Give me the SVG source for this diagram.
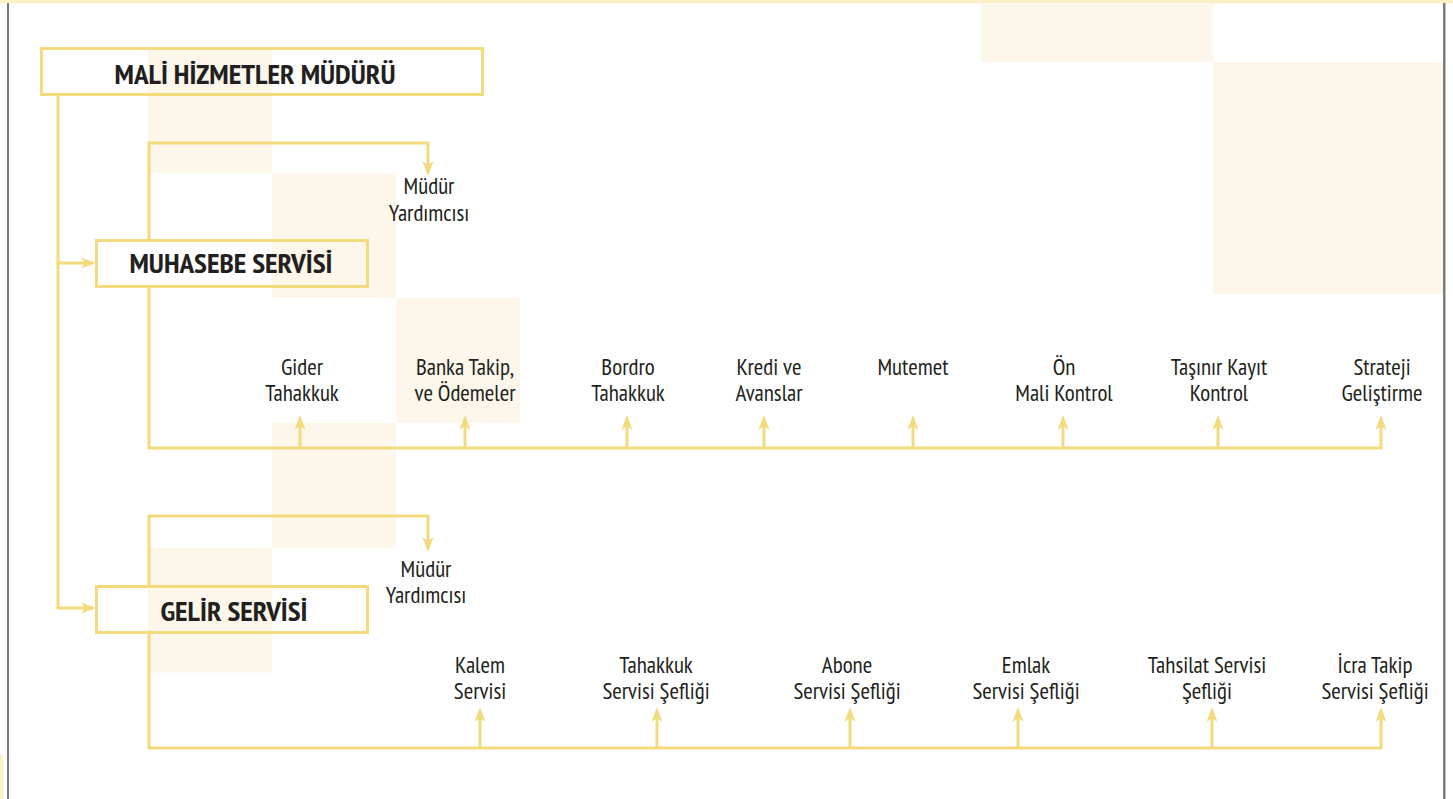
<svg xmlns="http://www.w3.org/2000/svg" width="1453" height="799" viewBox="0 0 1453 799">
<style>
.bg{fill:#fcf7ea}
.box{fill:none;stroke:#f3da7d;stroke-width:3}
.ln{fill:none;stroke:#f3da7d;stroke-width:3}
.t{font-family:"Liberation Sans Narrow","PT Sans Narrow","DejaVu Sans Condensed","Roboto Condensed",sans-serif;font-size:23px;fill:#231f20;text-anchor:middle}
.h{font-family:"Liberation Sans Narrow","PT Sans Narrow","DejaVu Sans Condensed",sans-serif;font-size:27px;font-weight:bold;fill:#231f20;text-anchor:middle}
</style>
<defs>
<marker id="ah" markerUnits="userSpaceOnUse" markerWidth="16" markerHeight="14" viewBox="0 0 16 14" refX="11" refY="7" orient="auto">
<path d="M0,1.5 L15,7 L0,12.5 L4,7 Z" fill="#f3da7d"/>
</marker>
</defs>
<rect x="0" y="0" width="1453" height="799" fill="#ffffff"/>
<g id="background">
<rect x="0" y="0" width="1453" height="3.5" fill="#fcefc8"/>
<rect class="bg" x="148" y="49" width="124" height="124.5"/>
<rect class="bg" x="272" y="173.5" width="124" height="124.5"/>
<rect class="bg" x="396" y="298" width="124" height="124.5"/>
<rect class="bg" x="272" y="422.5" width="124" height="125"/>
<rect class="bg" x="148" y="547.5" width="124" height="125"/>
<rect class="bg" x="981" y="3.5" width="232" height="58.5"/>
<rect class="bg" x="1213" y="62" width="230" height="232"/>
<rect x="7" y="3" width="2" height="796" fill="#7b7b7d"/>
<rect x="1443" y="3" width="2.5" height="796" fill="#7b7b7d"/>
<rect x="0" y="755" width="3" height="44" fill="#fcefc8"/>
</g>
<g id="connectors">
<path class="ln" d="M58,95 V263 H92" marker-end="url(#ah)"/>
<path class="ln" d="M58,263 V608 H92" marker-end="url(#ah)"/>
<path class="ln" d="M149,240 V143 H428 V172" marker-end="url(#ah)"/>
<path class="ln" d="M149,287 V448 H1381 V419" marker-end="url(#ah)"/>
<path class="ln" d="M300,448 V419" marker-end="url(#ah)"/>
<path class="ln" d="M465,448 V419" marker-end="url(#ah)"/>
<path class="ln" d="M627,448 V419" marker-end="url(#ah)"/>
<path class="ln" d="M764,448 V419" marker-end="url(#ah)"/>
<path class="ln" d="M913,448 V419" marker-end="url(#ah)"/>
<path class="ln" d="M1063,448 V419" marker-end="url(#ah)"/>
<path class="ln" d="M1218,448 V419" marker-end="url(#ah)"/>
<path class="ln" d="M149,586 V516 H428 V548" marker-end="url(#ah)"/>
<path class="ln" d="M149,633 V748 H1381 V711" marker-end="url(#ah)"/>
<path class="ln" d="M480,748 V711" marker-end="url(#ah)"/>
<path class="ln" d="M657,748 V711" marker-end="url(#ah)"/>
<path class="ln" d="M850,748 V711" marker-end="url(#ah)"/>
<path class="ln" d="M1018,748 V711" marker-end="url(#ah)"/>
<path class="ln" d="M1212,748 V711" marker-end="url(#ah)"/>
</g>
<g id="mali">
<rect class="box" x="41.5" y="48.5" width="441" height="46"/>
<text class="h" x="255" y="84" textLength="281" lengthAdjust="spacingAndGlyphs">MALİ HİZMETLER MÜDÜRÜ</text>
</g>
<g id="muhasebe">
<rect class="box" x="96.5" y="240.5" width="271" height="46"/>
<text class="h" x="231" y="273" textLength="203" lengthAdjust="spacingAndGlyphs">MUHASEBE SERVİSİ</text>
</g>
<g id="gelir">
<rect class="box" x="96.5" y="586.5" width="271" height="46"/>
<text class="h" x="234" y="621" textLength="147" lengthAdjust="spacingAndGlyphs">GELİR SERVİSİ</text>
</g>
<g id="muh-yrd"><text class="t" x="429" y="194">Müdür</text><text class="t" x="429" y="220.5">Yardımcısı</text></g>
<g id="gider"><text class="t" x="302" y="374.5">Gider</text><text class="t" x="302" y="401">Tahakkuk</text></g>
<g id="banka"><text class="t" x="465" y="374.5">Banka Takip,</text><text class="t" x="465" y="401">ve Ödemeler</text></g>
<g id="bordro"><text class="t" x="628" y="374.5">Bordro</text><text class="t" x="628" y="401">Tahakkuk</text></g>
<g id="kredi"><text class="t" x="769" y="374.5">Kredi ve</text><text class="t" x="769" y="401">Avanslar</text></g>
<g id="mutemet"><text class="t" x="913" y="374.5">Mutemet</text></g>
<g id="on-mali"><text class="t" x="1064" y="374.5">Ön</text><text class="t" x="1064" y="401">Mali Kontrol</text></g>
<g id="tasinir"><text class="t" x="1219" y="374.5">Taşınır Kayıt</text><text class="t" x="1219" y="401">Kontrol</text></g>
<g id="strateji"><text class="t" x="1382" y="374.5">Strateji</text><text class="t" x="1382" y="401">Geliştirme</text></g>
<g id="gelir-yrd"><text class="t" x="426" y="576.5">Müdür</text><text class="t" x="426" y="603">Yardımcısı</text></g>
<g id="kalem"><text class="t" x="480" y="672.5">Kalem</text><text class="t" x="480" y="699">Servisi</text></g>
<g id="tahakkuk"><text class="t" x="656" y="672.5">Tahakkuk</text><text class="t" x="656" y="699">Servisi Şefliği</text></g>
<g id="abone"><text class="t" x="847" y="672.5">Abone</text><text class="t" x="847" y="699">Servisi Şefliği</text></g>
<g id="emlak"><text class="t" x="1026" y="672.5">Emlak</text><text class="t" x="1026" y="699">Servisi Şefliği</text></g>
<g id="tahsilat"><text class="t" x="1207" y="672.5">Tahsilat Servisi</text><text class="t" x="1207" y="699">Şefliği</text></g>
<g id="icra"><text class="t" x="1375" y="672.5">İcra Takip</text><text class="t" x="1375" y="699">Servisi Şefliği</text></g>
</svg>
